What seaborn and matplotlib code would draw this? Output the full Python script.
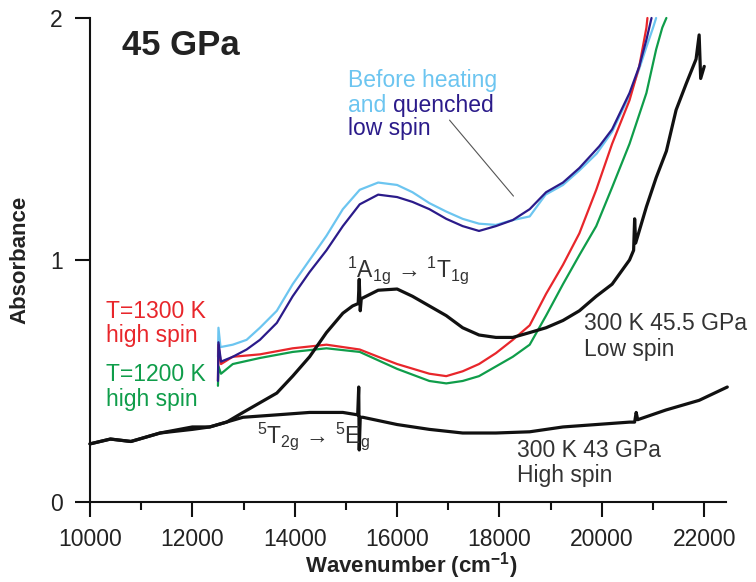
import pandas as pd
import matplotlib
matplotlib.use("Agg")
import matplotlib.pyplot as plt
import seaborn as sns

# ---- data (wavenumber cm-1, absorbance) ----
before_x = [12500, 12510, 12550, 12790, 13060, 13320, 13650, 13960, 14290, 14620, 14940,
            15270, 15630, 16000, 16300, 16630, 16960, 17280, 17600, 17930, 18260, 18590,
            18900, 19240, 19560, 19900, 20200, 20540, 20730, 20870, 21000, 21060]
before_y = [0.60, 0.72, 0.64, 0.65, 0.67, 0.72, 0.79, 0.90, 1.00, 1.10, 1.21,
            1.29, 1.32, 1.31, 1.28, 1.235, 1.20, 1.17, 1.15, 1.145, 1.165, 1.18,
            1.27, 1.31, 1.37, 1.44, 1.53, 1.68, 1.79, 1.88, 1.96, 2.0]

quench_x = [12500, 12510, 12560, 12790, 13060, 13320, 13650, 13960, 14290, 14620, 14940,
            15270, 15630, 16000, 16300, 16630, 16960, 17280, 17600, 17930, 18260, 18590,
            18910, 19240, 19560, 19950, 20200, 20540, 20730, 20870, 20970]
quench_y = [0.50, 0.66, 0.58, 0.60, 0.63, 0.67, 0.74, 0.85, 0.95, 1.04, 1.14,
            1.23, 1.27, 1.26, 1.24, 1.21, 1.17, 1.14, 1.12, 1.14, 1.165, 1.21,
            1.28, 1.32, 1.38, 1.47, 1.54, 1.69, 1.80, 1.91, 2.0]

t1300_x = [12500, 12510, 12560, 12790, 13320, 13960, 14620, 15270, 15630, 16000, 16630,
           16960, 17280, 17600, 17930, 18260, 18590, 18910, 19240, 19560, 19890, 20200,
           20540, 20730, 20870, 20890]
t1300_y = [0.50, 0.65, 0.57, 0.60, 0.61, 0.635, 0.65, 0.63, 0.60, 0.57, 0.53,
           0.52, 0.54, 0.57, 0.615, 0.67, 0.73, 0.86, 0.98, 1.11, 1.29, 1.48,
           1.66, 1.80, 1.96, 2.0]

t1200_x = [12500, 12510, 12560, 12790, 13320, 13960, 14620, 15270, 16000, 16630, 16960,
           17280, 17600, 17930, 18260, 18590, 18910, 19240, 19560, 19890, 20200, 20540,
           20870, 21060, 21180, 21260]
t1200_y = [0.48, 0.56, 0.53, 0.57, 0.595, 0.62, 0.635, 0.62, 0.55, 0.50, 0.49,
           0.50, 0.52, 0.56, 0.60, 0.65, 0.77, 0.90, 1.02, 1.14, 1.30, 1.48,
           1.69, 1.87, 1.96, 2.0]

ls_x = [10000, 10400, 10800, 11370, 12000, 12340, 12670, 12990, 13320, 13650, 13960,
        14290, 14620, 14940, 15130, 15240, 15260, 15280, 15300, 15630, 16000, 16300,
        16630, 16960, 17280, 17600, 17930, 18260, 18590, 18910, 19240, 19560, 19890,
        20200, 20540, 20620, 20640, 20660, 20870, 21060, 21260, 21450, 21650, 21840,
        21900, 21930, 22000]
ls_y = [0.24, 0.26, 0.25, 0.285, 0.31, 0.31, 0.33, 0.37, 0.41, 0.45, 0.52,
        0.60, 0.70, 0.78, 0.81, 0.82, 0.92, 0.79, 0.84, 0.875, 0.88, 0.85,
        0.81, 0.77, 0.72, 0.69, 0.68, 0.68, 0.70, 0.72, 0.75, 0.79, 0.85,
        0.90, 1.00, 1.04, 1.17, 1.07, 1.22, 1.34, 1.45, 1.62, 1.73, 1.83,
        1.93, 1.75, 1.80]

hs_x = [10000, 10400, 10800, 11370, 12000, 12340, 12990, 13650, 14290, 14940, 15230,
        15250, 15260, 15280, 15330, 16000, 16630, 17280, 17930, 18590, 19240, 19890,
        20540, 20640, 20670, 20700, 21250, 21900, 22450]
hs_y = [0.24, 0.26, 0.25, 0.285, 0.30, 0.31, 0.35, 0.36, 0.37, 0.37, 0.36,
        0.475, 0.215, 0.35, 0.35, 0.32, 0.30, 0.285, 0.285, 0.29, 0.31, 0.32,
        0.33, 0.33, 0.37, 0.34, 0.38, 0.42, 0.475]

LIGHT = "#6cc5f0"
NAVY = "#2b1b8a"
RED = "#e8262b"
GREEN = "#0f9d4a"
INK = "#333333"

series = [
    ("before", before_x, before_y, LIGHT, 1.6),
    ("1300", t1300_x, t1300_y, RED, 1.6),
    ("1200", t1200_x, t1200_y, GREEN, 1.6),
    ("quenched", quench_x, quench_y, NAVY, 1.6),
    ("ls", ls_x, ls_y, "#111111", 2.3),
    ("hs", hs_x, hs_y, "#111111", 2.3),
]

sns.set_style("ticks")
plt.rcParams["font.family"] = ["Liberation Sans", "DejaVu Sans"]
plt.rcParams["mathtext.default"] = "regular"

fig = plt.figure(figsize=(7.56, 5.82), dpi=100)
ax = fig.add_axes([0.119, 0.1375, 0.841, 0.8316])

for name, xs, ys, col, lw in series:
    df = pd.DataFrame({"x": xs, "y": ys})
    sns.lineplot(data=df, x="x", y="y", color=col, lw=lw, sort=False,
                 estimator=None, ax=ax, clip_on=False)

ax.set_xlim(10000, 22420)
ax.set_ylim(0, 2)
ax.set_xticks(range(10000, 22001, 2000))
ax.set_xticks(range(11000, 22001, 2000), minor=True)
ax.set_yticks([0, 1, 2])
sns.despine(ax=ax)
for s in ("left", "bottom"):
    ax.spines[s].set_linewidth(1.5)
    ax.spines[s].set_color("#111111")
ax.tick_params(which="major", length=10.5, width=1.5, labelsize=16.5,
               colors="#111111", labelcolor="#222222")
ax.tick_params(axis="x", which="major", pad=8)
ax.tick_params(axis="y", which="major", pad=9)
ax.tick_params(which="minor", length=6, width=1.5, color="#111111")

ax.set_xlabel("Wavenumber (cm$^{-1}$)", fontsize=16, fontweight="bold", color="#222222")
ax.set_ylabel("Absorbance", fontsize=16, fontweight="bold", color="#222222")
ax.xaxis.label.set_va("center")
ax.yaxis.label.set_va("center")
ax.xaxis.set_label_coords(0.505, -0.132)
ax.yaxis.set_label_coords(-0.11, 0.5)

fs = 16.5
ax.text(10624, 1.847, "45 GPa", fontsize=25, fontweight="bold", color="#222222")
ax.text(15034, 1.715, "Before heating", fontsize=fs, color=LIGHT)
ax.text(15034, 1.612, "and", fontsize=fs, color=LIGHT)
ax.text(15912, 1.612, "quenched", fontsize=fs, color=NAVY)
ax.text(15034, 1.517, "low spin", fontsize=fs, color=NAVY)
ax.plot([17024, 18273], [1.578, 1.264], color="#555555", lw=0.8)

ax.text(10312, 0.76, "T=1300 K", fontsize=fs, color=RED)
ax.text(10312, 0.661, "high spin", fontsize=fs, color=RED)
ax.text(10312, 0.50, "T=1200 K", fontsize=fs, color=GREEN)
ax.text(10312, 0.395, "high spin", fontsize=fs, color=GREEN)

ax.text(15015, 0.93, "$^{1}$A$_{1g}$ \u2192 $^{1}$T$_{1g}$", fontsize=fs, color=INK)
ax.text(13260, 0.244, "$^{5}$T$_{2g}$ \u2192 $^{5}$E$_{g}$", fontsize=fs, color=INK)

ax.text(19659, 0.711, "300 K 45.5 GPa", fontsize=fs, color=INK, clip_on=False)
ax.text(19659, 0.603, "Low spin", fontsize=fs, color=INK)
ax.text(18351, 0.186, "300 K 43 GPa", fontsize=fs, color=INK)
ax.text(18351, 0.081, "High spin", fontsize=fs, color=INK)

fig.savefig("out.png", dpi=100)
